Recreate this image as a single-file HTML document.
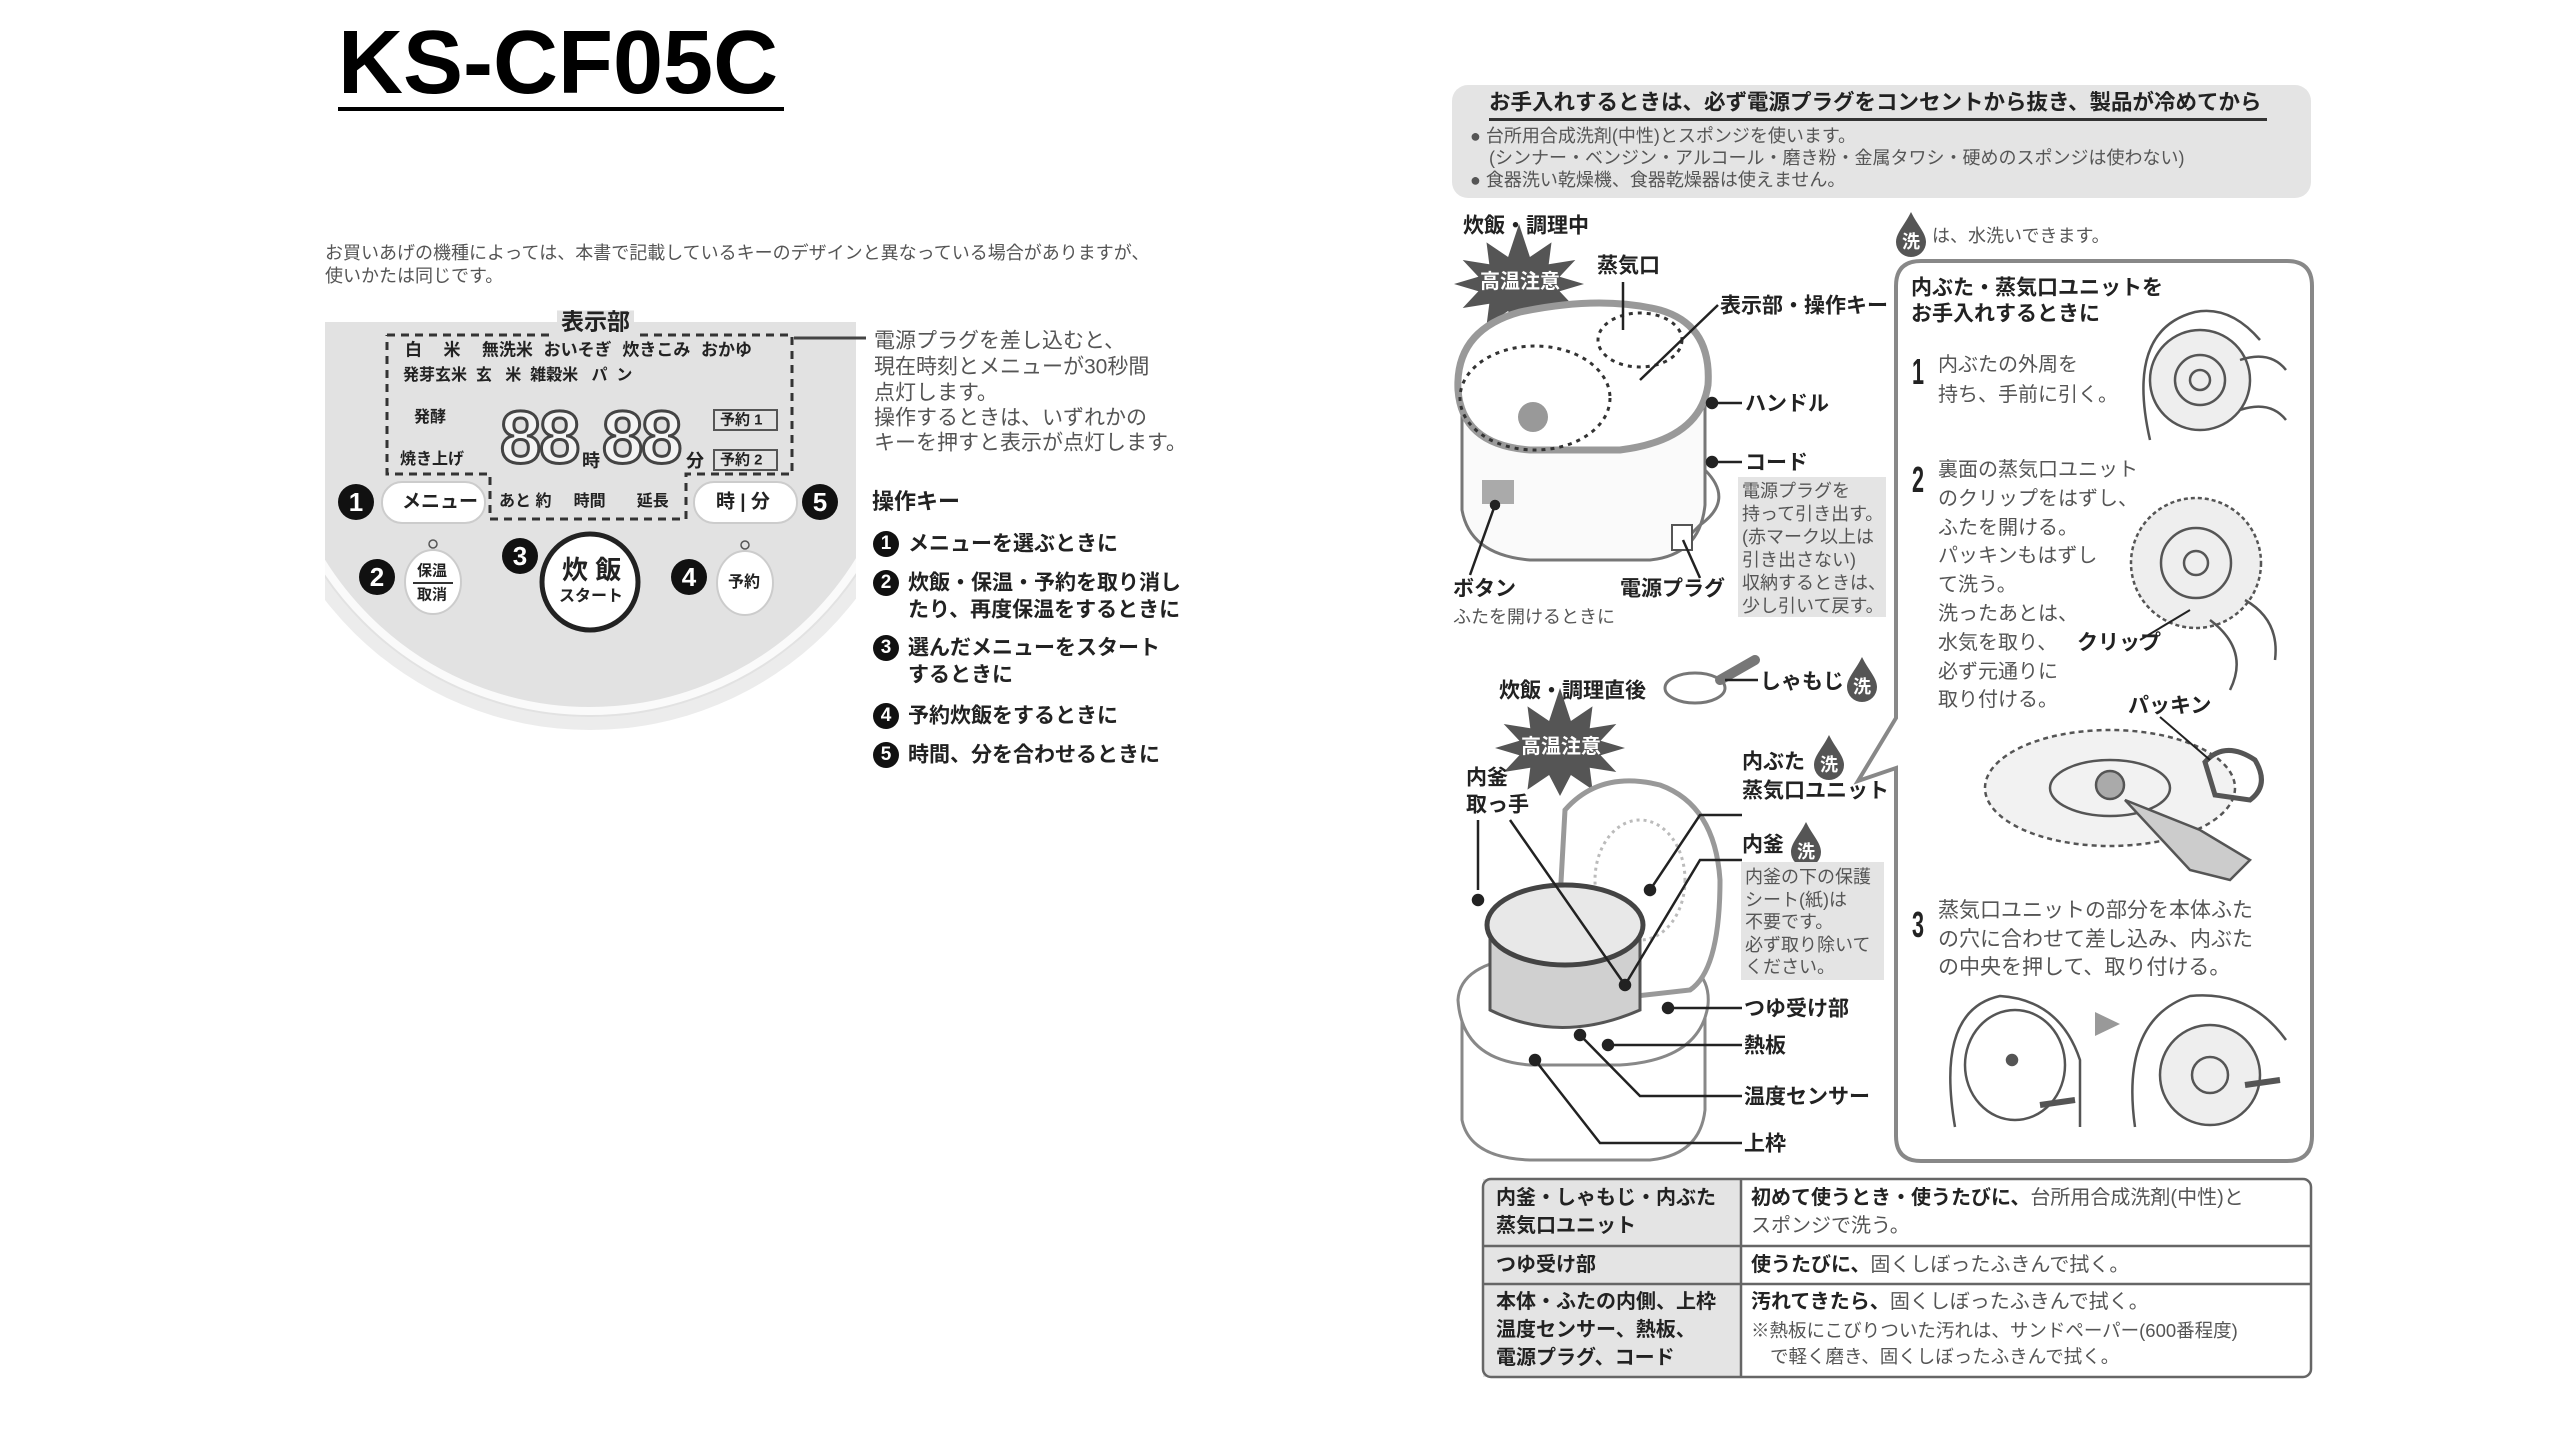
<!DOCTYPE html>
<html><head><meta charset="utf-8"><style>
html,body{margin:0;padding:0;background:#fff}
body{width:2560px;height:1440px;position:relative;overflow:hidden;font-family:"Liberation Sans","Noto Sans CJK JP",sans-serif;color:#333}
.t{position:absolute;white-space:nowrap;line-height:1;transform:translateY(-50%)}
.b{font-weight:bold;color:#222}
.g{color:#555}
.n{position:absolute;border-radius:50%;background:#111;color:#fff;font-weight:bold;text-align:center;transform:translate(-50%,-50%)}
svg{position:absolute;left:0;top:0}
</style></head><body>
<svg width="2560" height="1440" viewBox="0 0 2560 1440">
<defs>
<clipPath id="pc"><rect x="325" y="322" width="531" height="420"/></clipPath>
<polygon id="burst" points="65,0 40.6,7.3 56.3,24 29.7,19.8 32.5,41.6 10.9,27 0,48 -10.9,27 -32.5,41.6 -29.7,19.8 -56.3,24 -40.6,7.3 -65,0 -40.6,-7.3 -56.3,-24 -29.7,-19.8 -32.5,-41.6 -10.9,-27 0,-60 10.9,-27 32.5,-41.6 29.7,-19.8 56.3,-24 40.6,-7.3"/>
<path id="drop" d="M0,-24 C7,-10 15,-3 15,6 A15,15 0 1 1 -15,6 C-15,-3 -7,-10 0,-24 Z"/>
</defs>
<rect x="338" y="107" width="446" height="4" fill="#000"/>
<!-- left panel -->
<g clip-path="url(#pc)">
<circle cx="590" cy="395" r="335" fill="#ececec"/>
<circle cx="590" cy="395" r="322" fill="#e2e2e2"/>
<circle cx="590" cy="395" r="316" fill="none" stroke="#fafafa" stroke-width="8"/>
</g>
<path d="M387,335 H550 M640,335 H792 V474 H686 V519 H490 V474 H387 V335" fill="none" stroke="#333" stroke-width="3" stroke-dasharray="8,6"/>
<line x1="794" y1="338" x2="866" y2="338" stroke="#444" stroke-width="3"/>
<rect x="382" y="482" width="103" height="41" rx="20" fill="#fff" stroke="#ccc" stroke-width="2"/>
<rect x="694" y="482" width="103" height="41" rx="20" fill="#fff" stroke="#ccc" stroke-width="2"/>
<ellipse cx="433" cy="582" rx="28" ry="32" fill="#fff" stroke="#ccc" stroke-width="2"/>
<ellipse cx="745" cy="583" rx="28" ry="32" fill="#fff" stroke="#ccc" stroke-width="2"/>
<circle cx="590" cy="582" r="48" fill="#fff" stroke="#222" stroke-width="5"/>
<circle cx="433" cy="544" r="4" fill="none" stroke="#555" stroke-width="1.5"/>
<circle cx="745" cy="545" r="4" fill="none" stroke="#555" stroke-width="1.5"/>
<line x1="413" y1="583" x2="453" y2="583" stroke="#333" stroke-width="2"/>
<rect x="714" y="410" width="63" height="20" fill="none" stroke="#555" stroke-width="2"/>
<rect x="714" y="450" width="63" height="20" fill="none" stroke="#555" stroke-width="2"/>

<rect x="1452" y="85" width="859" height="113" rx="16" fill="#e4e4e4"/>
<rect x="1489" y="118" width="778" height="3" fill="#333"/>
<path d="M1921,261 H2287 Q2312,261 2312,286 V1136 Q2312,1161 2287,1161 H1921 Q1896,1161 1896,1136 V768 L1858,781 L1896,718 V286 Q1896,261 1921,261 Z" fill="#fff" stroke="#888" stroke-width="4"/>
<use href="#burst" transform="translate(1519,284)" fill="#555"/>
<use href="#burst" transform="translate(1560,748)" fill="#555"/>
<use href="#drop" transform="translate(1911,236)" fill="#555"/>
<use href="#drop" transform="translate(1862,681)" fill="#555"/>
<use href="#drop" transform="translate(1829,759)" fill="#555"/>
<use href="#drop" transform="translate(1806,846)" fill="#555"/>
<g fill="#fff" font-size="18" font-weight="bold" text-anchor="middle" font-family="Liberation Sans, Noto Sans CJK JP, sans-serif">
<text x="1911" y="248">洗</text><text x="1862" y="693">洗</text><text x="1829" y="771">洗</text><text x="1806" y="858">洗</text>
</g>
<g fill="none" stroke="#777" stroke-width="3">
<path d="M1462,400 V510 Q1470,555 1530,560 H1650 Q1700,555 1705,505 V400" fill="#fafafa"/>
<path d="M1458,390 Q1455,330 1520,312 Q1600,295 1660,310 Q1712,325 1708,385 Q1700,440 1620,450 H1530 Q1462,445 1458,390 Z" fill="#fff" stroke="#999" stroke-width="7"/>
<ellipse cx="1535" cy="398" rx="75" ry="52" stroke="#333" stroke-dasharray="4,5"/>
<ellipse cx="1640" cy="340" rx="42" ry="27" stroke="#333" stroke-dasharray="4,5"/>
<path d="M1705,470 Q1735,500 1700,525 L1685,540"/>
</g>
<circle cx="1533" cy="417" r="15" fill="#999"/>
<rect x="1482" y="480" width="32" height="24" fill="#aaa"/>
<rect x="1672" y="525" width="20" height="25" fill="#fff" stroke="#555" stroke-width="2"/>
<g stroke="#222" stroke-width="2.5" fill="#222">
<line x1="1623" y1="282" x2="1623" y2="330"/>
<line x1="1718" y1="305" x2="1640" y2="380"/>
<line x1="1712" y1="403" x2="1742" y2="403"/><circle cx="1712" cy="403" r="5"/>
<line x1="1712" y1="462" x2="1742" y2="462"/><circle cx="1712" cy="462" r="5"/>
<line x1="1495" y1="505" x2="1470" y2="575"/><circle cx="1495" cy="505" r="4"/>
<line x1="1683" y1="540" x2="1700" y2="578"/>
</g>
<rect x="1738" y="477" width="148" height="140" fill="#e4e4e4"/>
<rect x="1741" y="862" width="143" height="118" fill="#e4e4e4"/>
<ellipse cx="1695" cy="688" rx="30" ry="15" fill="#fff" stroke="#777" stroke-width="3"/>
<path d="M1720,680 L1755,660" stroke="#777" stroke-width="10" stroke-linecap="round"/>
<line x1="1725" y1="680" x2="1758" y2="680" stroke="#222" stroke-width="2.5"/>
<g fill="#fff" stroke="#888" stroke-width="3">
<path d="M1462,1010 V1120 Q1470,1158 1530,1160 H1650 Q1700,1155 1705,1110 V1010"/>
<path d="M1458,1000 Q1460,960 1540,955 H1650 Q1712,960 1708,1005 Q1700,1060 1620,1065 H1530 Q1462,1060 1458,1000 Z"/>
<path d="M1565,810 Q1600,770 1660,785 Q1715,805 1720,880 Q1720,970 1690,990 L1600,1000 Q1565,980 1560,900 Z" stroke="#999" stroke-width="5"/>
<ellipse cx="1640" cy="880" rx="45" ry="60" stroke="#bbb" stroke-dasharray="3,4"/>
<path d="M1490,925 V1010 Q1560,1045 1640,1010 V925" fill="#d0d0d0" stroke="#555"/>
<ellipse cx="1565" cy="925" rx="78" ry="40" fill="#e8e8e8" stroke="#444" stroke-width="5"/>
</g>
<g stroke="#222" stroke-width="2.5" fill="#222">
<path d="M1650,890 L1700,815 H1742" fill="none"/><circle cx="1650" cy="890" r="5"/>
<path d="M1625,985 L1700,860 H1742" fill="none"/><circle cx="1625" cy="985" r="5"/>
<path d="M1670,1008 H1742" fill="none"/><circle cx="1668" cy="1008" r="5"/>
<path d="M1610,1045 H1742" fill="none"/><circle cx="1608" cy="1045" r="5"/>
<path d="M1580,1035 L1640,1096 H1742" fill="none"/><circle cx="1580" cy="1035" r="5"/>
<path d="M1535,1060 L1600,1143 H1742" fill="none"/><circle cx="1535" cy="1060" r="5"/>
<path d="M1478,820 V890 M1510,820 L1625,985" fill="none"/><circle cx="1478" cy="900" r="5"/>
</g>
<g fill="none" stroke="#555" stroke-width="2.5">
<path d="M2150,440 Q2125,330 2195,312 Q2230,305 2260,340"/>
<circle cx="2200" cy="380" r="50" fill="#eee"/><circle cx="2200" cy="380" r="25"/><circle cx="2200" cy="380" r="10"/>
<path d="M2240,360 Q2270,350 2286,370 M2240,410 Q2270,400 2286,420"/>
<circle cx="2196" cy="563" r="65" fill="#eee" stroke-dasharray="4,3"/><circle cx="2196" cy="563" r="35"/><circle cx="2196" cy="563" r="12"/>
<path d="M2210,620 Q2250,650 2230,690 M2245,600 Q2280,620 2275,660"/>
<ellipse cx="2110" cy="788" rx="125" ry="58" fill="#f2f2f2" stroke-dasharray="5,4"/>
<ellipse cx="2110" cy="788" rx="60" ry="28"/><circle cx="2110" cy="785" r="14" fill="#aaa"/>
<path d="M2125,800 L2200,830 L2250,860 L2230,880 L2190,870 Z" fill="#ccc"/>
<path d="M2205,762 Q2225,740 2255,760 Q2270,785 2250,800 L2215,795 Z" stroke-width="5"/>
<path d="M1955,1127 Q1935,1010 2000,996 Q2060,1000 2080,1060 V1127"/>
<ellipse cx="2015" cy="1065" rx="50" ry="55"/><circle cx="2012" cy="1060" r="5" fill="#555"/>
<path d="M2135,1127 Q2120,1020 2190,996 Q2250,990 2286,1040"/>
<circle cx="2210" cy="1075" r="50" fill="#eee"/><circle cx="2210" cy="1075" r="18"/>
<path d="M2040,1105 L2075,1100 M2245,1085 L2280,1080" stroke-width="6"/>
</g>
<polygon points="2095,1012 2120,1024 2095,1036" fill="#999"/>
<line x1="2160" y1="717" x2="2210" y2="760" stroke="#222" stroke-width="2"/>
<line x1="2140" y1="640" x2="2190" y2="610" stroke="#222" stroke-width="2"/>
<rect x="1483" y="1179" width="258" height="198" fill="#e4e4e4"/>
<rect x="1483" y="1179" width="828" height="198" rx="8" fill="none" stroke="#666" stroke-width="2.5"/>
<line x1="1741" y1="1179" x2="1741" y2="1377" stroke="#666" stroke-width="2.5"/>
<line x1="1483" y1="1246" x2="2311" y2="1246" stroke="#666" stroke-width="2.5"/>
<line x1="1483" y1="1284" x2="2311" y2="1284" stroke="#666" stroke-width="2.5"/>
</svg>

<div style="position:absolute;left:338px;top:8px;font-size:90px;font-weight:bold;color:#000;line-height:110px">KS-CF05C</div>

<div class="t g" style="left:325px;top:253px;font-size:18px">お買いあげの機種によっては、本書で記載しているキーのデザインと異なっている場合がありますが、</div>
<div class="t g" style="left:325px;top:276px;font-size:18px">使いかたは同じです。</div>
<div class="t b" style="left:557px;top:322px;font-size:23px;background:#e2e2e2;padding:0 4px">表示部</div>
<div class="t b" style="left:405px;top:350px;font-size:17px;word-spacing:6px">白&nbsp;&nbsp;米&nbsp;&nbsp;無洗米&nbsp;おいそぎ&nbsp;炊きこみ&nbsp;おかゆ</div>
<div class="t b" style="left:403px;top:376px;font-size:16px">発芽玄米&nbsp;&nbsp;玄&nbsp;&nbsp;&nbsp;米&nbsp;&nbsp;雑穀米&nbsp;&nbsp;&nbsp;パ&nbsp;&nbsp;ン</div>
<div class="t b" style="left:414px;top:418px;font-size:16px">発酵</div>
<div class="t b" style="left:400px;top:460px;font-size:16px">焼き上げ</div>
<div class="t" style="left:500px;top:438px;font-size:74px;font-weight:bold;color:#f4f4f4;-webkit-text-stroke:3px #444;letter-spacing:-2px">88</div>
<div class="t b" style="left:582px;top:461px;font-size:18px">時</div>
<div class="t" style="left:602px;top:438px;font-size:74px;font-weight:bold;color:#f4f4f4;-webkit-text-stroke:3px #444;letter-spacing:-2px">88</div>
<div class="t b" style="left:686px;top:461px;font-size:18px">分</div>
<div class="t b" style="left:720px;top:420px;font-size:15px">予約 1</div>
<div class="t b" style="left:720px;top:460px;font-size:15px">予約 2</div>
<div class="n" style="left:356px;top:502px;width:36px;height:36px;line-height:36px;font-size:26px">1</div>
<div class="t b" style="left:402px;top:502px;font-size:19px">メニュー</div>
<div class="t b" style="left:499px;top:502px;font-size:16px">あと 約&nbsp;&nbsp;&nbsp;&nbsp;&nbsp;時間&nbsp;&nbsp;&nbsp;&nbsp;&nbsp;&nbsp;&nbsp;延長</div>
<div class="t b" style="left:716px;top:502px;font-size:19px">時 | 分</div>
<div class="n" style="left:820px;top:502px;width:36px;height:36px;line-height:36px;font-size:26px">5</div>
<div class="n" style="left:377px;top:577px;width:36px;height:36px;line-height:36px;font-size:26px">2</div>
<div class="t b" style="left:417px;top:571px;font-size:15px">保温</div>
<div class="t b" style="left:417px;top:595px;font-size:15px">取消</div>
<div class="n" style="left:520px;top:556px;width:36px;height:36px;line-height:36px;font-size:26px">3</div>
<div class="t b" style="left:562px;top:570px;font-size:26px">炊 飯</div>
<div class="t b" style="left:559px;top:597px;font-size:16px">スタート</div>
<div class="n" style="left:689px;top:577px;width:36px;height:36px;line-height:36px;font-size:26px">4</div>
<div class="t b" style="left:728px;top:583px;font-size:16px">予約</div>
<div class="t g" style="left:874px;top:341px;font-size:21px">電源プラグを差し込むと、</div>
<div class="t g" style="left:874px;top:367px;font-size:21px">現在時刻とメニューが30秒間</div>
<div class="t g" style="left:874px;top:393px;font-size:21px">点灯します。</div>
<div class="t g" style="left:874px;top:418px;font-size:21px">操作するときは、いずれかの</div>
<div class="t g" style="left:874px;top:443px;font-size:21px">キーを押すと表示が点灯します。</div>
<div class="t b" style="left:872px;top:502px;font-size:22px">操作キー</div>
<div class="n" style="left:886px;top:544px;width:26px;height:26px;line-height:26px;font-size:19px">1</div>
<div class="t b" style="left:908px;top:544px;font-size:21px">メニューを選ぶときに</div>
<div class="n" style="left:886px;top:583px;width:26px;height:26px;line-height:26px;font-size:19px">2</div>
<div class="t b" style="left:908px;top:583px;font-size:21px">炊飯・保温・予約を取り消し</div>
<div class="t b" style="left:908px;top:610px;font-size:21px">たり、再度保温をするときに</div>
<div class="n" style="left:886px;top:648px;width:26px;height:26px;line-height:26px;font-size:19px">3</div>
<div class="t b" style="left:908px;top:648px;font-size:21px">選んだメニューをスタート</div>
<div class="t b" style="left:908px;top:675px;font-size:21px">するときに</div>
<div class="n" style="left:886px;top:716px;width:26px;height:26px;line-height:26px;font-size:19px">4</div>
<div class="t b" style="left:908px;top:716px;font-size:21px">予約炊飯をするときに</div>
<div class="n" style="left:886px;top:755px;width:26px;height:26px;line-height:26px;font-size:19px">5</div>
<div class="t b" style="left:908px;top:755px;font-size:21px">時間、分を合わせるときに</div>

<div class="t b" style="left:1489px;top:103px;font-size:21.5px">お手入れするときは、必ず電源プラグをコンセントから抜き、製品が冷めてから</div>
<div class="t g" style="left:1470px;top:136px;font-size:18px">●&nbsp;台所用合成洗剤(中性)とスポンジを使います。</div>
<div class="t g" style="left:1489px;top:158px;font-size:18px">(シンナー・ベンジン・アルコール・磨き粉・金属タワシ・硬めのスポンジは使わない)</div>
<div class="t g" style="left:1470px;top:180px;font-size:18px">●&nbsp;食器洗い乾燥機、食器乾燥器は使えません。</div>
<div class="t b" style="left:1463px;top:226px;font-size:21px">炊飯・調理中</div>
<div class="t" style="left:1480px;top:282px;font-size:20px;font-weight:bold;color:#fff">高温注意</div>
<div class="t b" style="left:1597px;top:266px;font-size:21px">蒸気口</div>
<div class="t g" style="left:1932px;top:236px;font-size:18px">は、水洗いできます。</div>
<div class="t b" style="left:1720px;top:306px;font-size:21px">表示部・操作キー</div>
<div class="t b" style="left:1745px;top:404px;font-size:21px">ハンドル</div>
<div class="t b" style="left:1745px;top:463px;font-size:21px">コード</div>
<div class="g" style="position:absolute;left:1742px;top:480px;font-size:18px;line-height:23px;white-space:nowrap">電源プラグを<br>持って引き出す。<br>(赤マーク以上は<br>引き出さない)<br>収納するときは、<br>少し引いて戻す。</div>
<div class="t b" style="left:1453px;top:589px;font-size:21px">ボタン</div>
<div class="t g" style="left:1453px;top:617px;font-size:18px">ふたを開けるときに</div>
<div class="t b" style="left:1620px;top:589px;font-size:21px">電源プラグ</div>
<div class="t b" style="left:1911px;top:288px;font-size:21px">内ぶた・蒸気口ユニットを</div>
<div class="t b" style="left:1911px;top:314px;font-size:21px">お手入れするときに</div>
<div class="t b" style="left:1908px;top:372px;font-size:36px;transform:translateY(-50%) scaleX(.6)">1</div>
<div class="g" style="position:absolute;left:1938px;top:350px;font-size:20px;line-height:30px;white-space:nowrap">内ぶたの外周を<br>持ち、手前に引く。</div>
<div class="t b" style="left:1908px;top:480px;font-size:36px;transform:translateY(-50%) scaleX(.6)">2</div>
<div class="g" style="position:absolute;left:1938px;top:456px;font-size:20px;line-height:28.8px;white-space:nowrap">裏面の蒸気口ユニット<br>のクリップをはずし、<br>ふたを開ける。<br>パッキンもはずし<br>て洗う。<br>洗ったあとは、<br>水気を取り、<br>必ず元通りに<br>取り付ける。</div>
<div class="t b" style="left:2077px;top:643px;font-size:21px">クリップ</div>
<div class="t b" style="left:2128px;top:706px;font-size:21px">パッキン</div>
<div class="t b" style="left:1908px;top:925px;font-size:36px;transform:translateY(-50%) scaleX(.6)">3</div>
<div class="g" style="position:absolute;left:1938px;top:897px;font-size:21px;line-height:28.5px;white-space:nowrap">蒸気口ユニットの部分を本体ふた<br>の穴に合わせて差し込み、内ぶた<br>の中央を押して、取り付ける。</div>
<div class="t b" style="left:1499px;top:691px;font-size:21px">炊飯・調理直後</div>
<div class="t b" style="left:1760px;top:682px;font-size:21px">しゃもじ</div>
<div class="t" style="left:1521px;top:747px;font-size:20px;font-weight:bold;color:#fff">高温注意</div>
<div class="t b" style="left:1466px;top:778px;font-size:21px">内釜</div>
<div class="t b" style="left:1466px;top:805px;font-size:21px">取っ手</div>
<div class="t b" style="left:1742px;top:762px;font-size:21px">内ぶた</div>
<div class="t b" style="left:1742px;top:791px;font-size:21px">蒸気口ユニット</div>
<div class="t b" style="left:1742px;top:845px;font-size:21px">内釜</div>
<div class="g" style="position:absolute;left:1745px;top:866px;font-size:18px;line-height:22.5px;white-space:nowrap">内釜の下の保護<br>シート(紙)は<br>不要です。<br>必ず取り除いて<br>ください。</div>
<div class="t b" style="left:1744px;top:1009px;font-size:21px">つゆ受け部</div>
<div class="t b" style="left:1744px;top:1046px;font-size:21px">熱板</div>
<div class="t b" style="left:1744px;top:1097px;font-size:21px">温度センサー</div>
<div class="t b" style="left:1744px;top:1144px;font-size:21px">上枠</div>
<div class="t b" style="left:1496px;top:1198px;font-size:20px">内釜・しゃもじ・内ぶた</div>
<div class="t b" style="left:1496px;top:1226px;font-size:20px">蒸気口ユニット</div>
<div class="t b" style="left:1496px;top:1265px;font-size:20px">つゆ受け部</div>
<div class="t b" style="left:1496px;top:1302px;font-size:20px">本体・ふたの内側、上枠</div>
<div class="t b" style="left:1496px;top:1330px;font-size:20px">温度センサー、熱板、</div>
<div class="t b" style="left:1496px;top:1358px;font-size:20px">電源プラグ、コード</div>
<div class="t" style="left:1751px;top:1198px;font-size:20px"><b style="color:#222">初めて使うとき・使うたびに、</b><span class="g">台所用合成洗剤(中性)と</span></div>
<div class="t g" style="left:1751px;top:1226px;font-size:20px">スポンジで洗う。</div>
<div class="t" style="left:1751px;top:1265px;font-size:20px"><b style="color:#222">使うたびに、</b><span class="g">固くしぼったふきんで拭く。</span></div>
<div class="t" style="left:1751px;top:1302px;font-size:20px"><b style="color:#222">汚れてきたら、</b><span class="g">固くしぼったふきんで拭く。</span></div>
<div class="t g" style="left:1751px;top:1331px;font-size:18.5px">※熱板にこびりついた汚れは、サンドペーパー(600番程度)</div>
<div class="t g" style="left:1770px;top:1357px;font-size:18.5px">で軽く磨き、固くしぼったふきんで拭く。</div>
</body></html>
